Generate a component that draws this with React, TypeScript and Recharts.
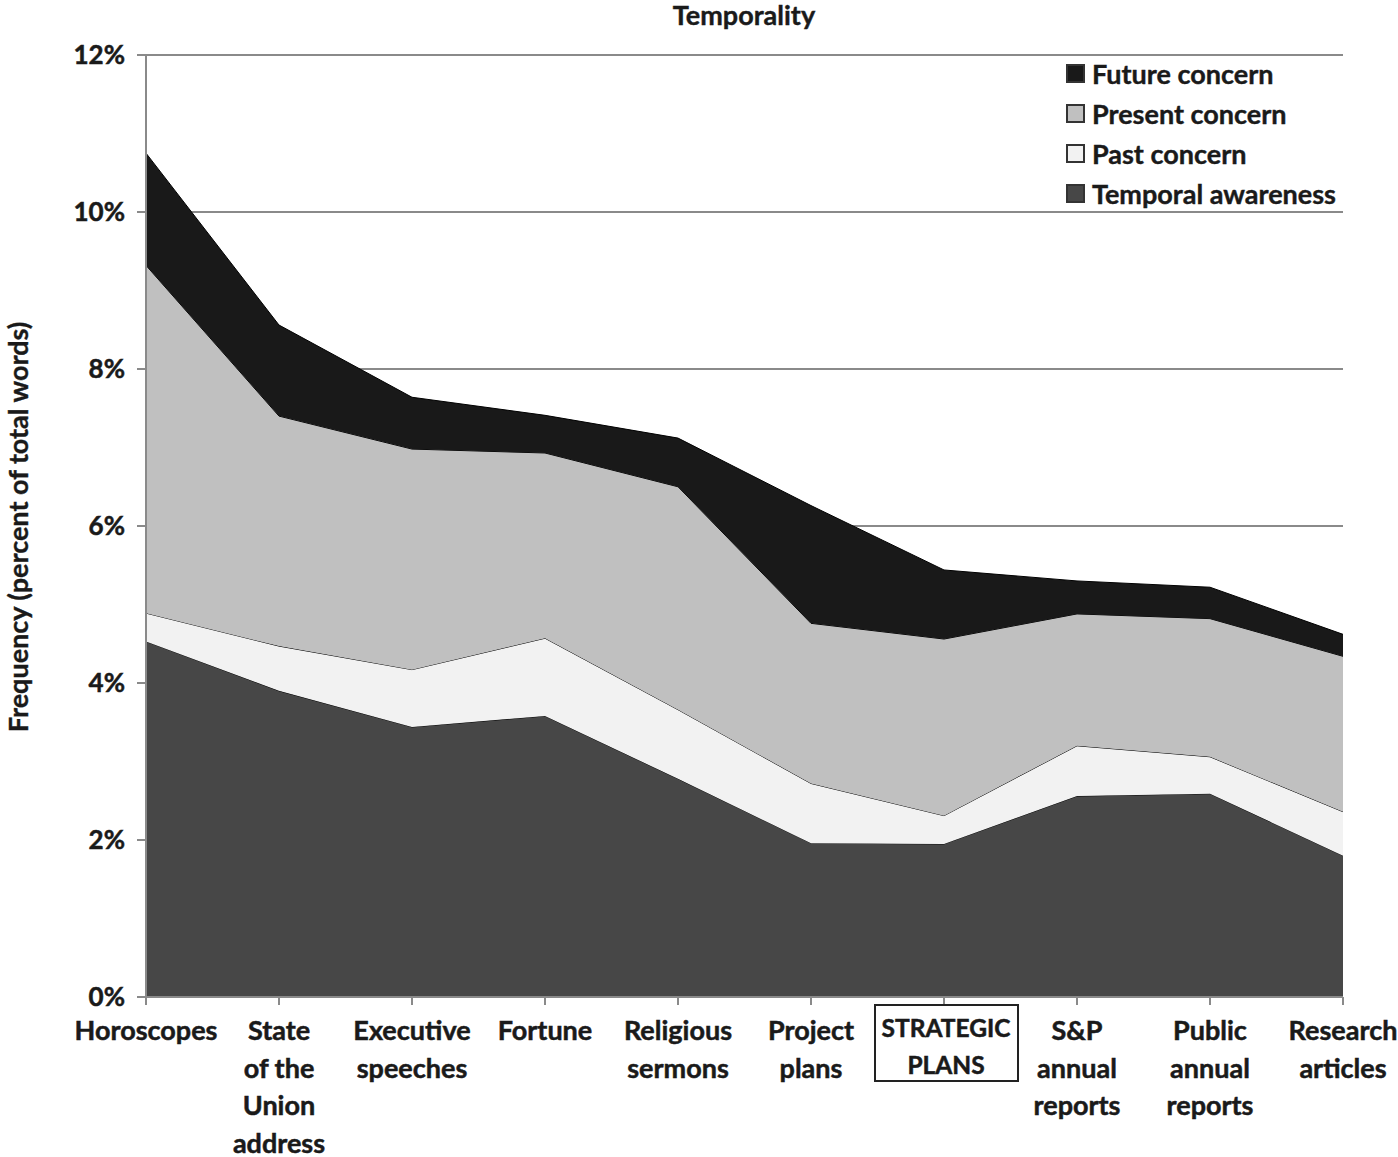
import React from "react"
import { AreaChart, Area, XAxis, YAxis, CartesianGrid, Legend } from "recharts"

const categories = [
  "Horoscopes",
  "State of the Union address",
  "Executive speeches",
  "Fortune",
  "Religious sermons",
  "Project plans",
  "STRATEGIC PLANS",
  "S&P annual reports",
  "Public annual reports",
  "Research articles",
]

// label lines as printed under each tick
const tickLines: Record<string, string[]> = {
  "Horoscopes": ["Horoscopes"],
  "State of the Union address": ["State", "of the", "Union", "address"],
  "Executive speeches": ["Executive", "speeches"],
  "Fortune": ["Fortune"],
  "Religious sermons": ["Religious", "sermons"],
  "Project plans": ["Project", "plans"],
  "STRATEGIC PLANS": ["STRATEGIC", "PLANS"],
  "S&P annual reports": ["S&P", "annual", "reports"],
  "Public annual reports": ["Public", "annual", "reports"],
  "Research articles": ["Research", "articles"],
}

// percent of total words, stacked bottom to top
const temporalAwareness = [4.53, 3.90, 3.44, 3.58, 2.78, 1.96, 1.95, 2.56, 2.59, 1.80]
const pastConcern = [0.36, 0.57, 0.73, 0.99, 0.88, 0.76, 0.36, 0.64, 0.47, 0.56]
const presentConcern = [4.43, 2.93, 2.81, 2.36, 2.84, 2.04, 2.25, 1.68, 1.76, 1.98]
const futureConcern = [1.43, 1.16, 0.66, 0.48, 0.62, 1.50, 0.88, 0.42, 0.40, 0.28]

const yTicks = [0, 2, 4, 6, 8, 10, 12]

const series = [
  { key: "ta", name: "Temporal awareness", fill: "#474747" },
  { key: "past", name: "Past concern", fill: "#f2f2f2" },
  { key: "present", name: "Present concern", fill: "#c0c0c0" },
  { key: "future", name: "Future concern", fill: "#191919" },
]

const data = categories.map((c, i) => ({
  cat: c,
  ta: temporalAwareness[i],
  past: pastConcern[i],
  present: presentConcern[i],
  future: futureConcern[i],
}))

const FONT = "Lato, 'Liberation Sans', sans-serif"
const INK = "#1a1a1a"

function CatTick(props: any) {
  const { x, y, payload } = props
  const lines = tickLines[payload.value] || [payload.value]
  const boxed = payload.value === "STRATEGIC PLANS"
  return (
    <g>
      {boxed && (
        <rect x={x - 69} y={y - 2} width={143} height={76} fill="none" stroke="#222" strokeWidth={2} />
      )}
      <text x={x} y={y} textAnchor="middle" fontFamily={FONT} fontWeight="bold" fontSize={boxed ? 24.5 : 27}
        fill={INK} stroke={INK} strokeWidth={0.5}>
        {lines.map((l, i) => (
          <tspan key={i} x={x + (boxed ? 2 : 0)} y={y + (boxed ? 30 : 33) + i * (boxed ? 36.5 : 37.5)}>{l}</tspan>
        ))}
      </text>
    </g>
  )
}

function LegendBox() {
  return (
    <div style={{ fontFamily: FONT, fontWeight: "bold", fontSize: 27, color: INK, WebkitTextStroke: "0.4px #1a1a1a" }}>
      {[...series].reverse().map((s) => (
        <div key={s.key} style={{ display: "flex", alignItems: "center", height: 40, whiteSpace: "nowrap" }}>
          <span style={{ width: 15, height: 15, background: s.fill, border: "2px solid #333", marginRight: 7, display: "inline-block" }} />
          <span>{s.name}</span>
        </div>
      ))}
    </div>
  )
}

export default function App() {
  return (
    <div style={{ position: "absolute", left: 0, top: 0, width: 1398, height: 1157, background: "#fff" }}>
      <div style={{ position: "absolute", left: 0, width: 1488, top: -2, textAlign: "center", fontFamily: FONT, fontWeight: "bold", fontSize: 27, color: INK, WebkitTextStroke: "0.4px #1a1a1a" }}>
        Temporality
      </div>
      <div style={{ position: "absolute", left: 17, top: 527, transform: "translate(-50%, -50%) rotate(-90deg)", whiteSpace: "nowrap", fontFamily: FONT, fontWeight: "bold", fontSize: 27, color: INK, WebkitTextStroke: "0.4px #1a1a1a" }}>
        Frequency (percent of total words)
      </div>
      <AreaChart width={1398} height={1157} data={data} margin={{ top: 55, right: 55, left: 0, bottom: 0 }}>
        <CartesianGrid vertical={false} stroke="#8a8a8a" strokeWidth={2} />
        <XAxis
          dataKey="cat"
          height={160}
          interval={0}
          tick={<CatTick />}
          tickSize={8}
          stroke="#8a8a8a"
          strokeWidth={2}
        />
        <YAxis
          width={146}
          domain={[0, 12]}
          ticks={yTicks}
          tickFormatter={(v: number) => v + "%"}
          tickSize={9}
          tickMargin={12}
          stroke="#8a8a8a"
          strokeWidth={2}
          tick={{ fontFamily: FONT, fontWeight: "bold", fontSize: 26, fill: INK, stroke: INK, strokeWidth: 0.5 }}
        />
        {series.map((s) => (
          <Area
            key={s.key}
            type="linear"
            dataKey={s.key}
            name={s.name}
            stackId="1"
            stroke="#000"
            strokeWidth={1}
            fill={s.fill}
            fillOpacity={1}
            isAnimationActive={false}
          />
        ))}
        <Legend
          layout="vertical"
          align="center"
          verticalAlign="middle"
          wrapperStyle={{ top: 53, left: 1066, width: "auto" }}
          content={() => <LegendBox />}
        />
      </AreaChart>
    </div>
  )
}
